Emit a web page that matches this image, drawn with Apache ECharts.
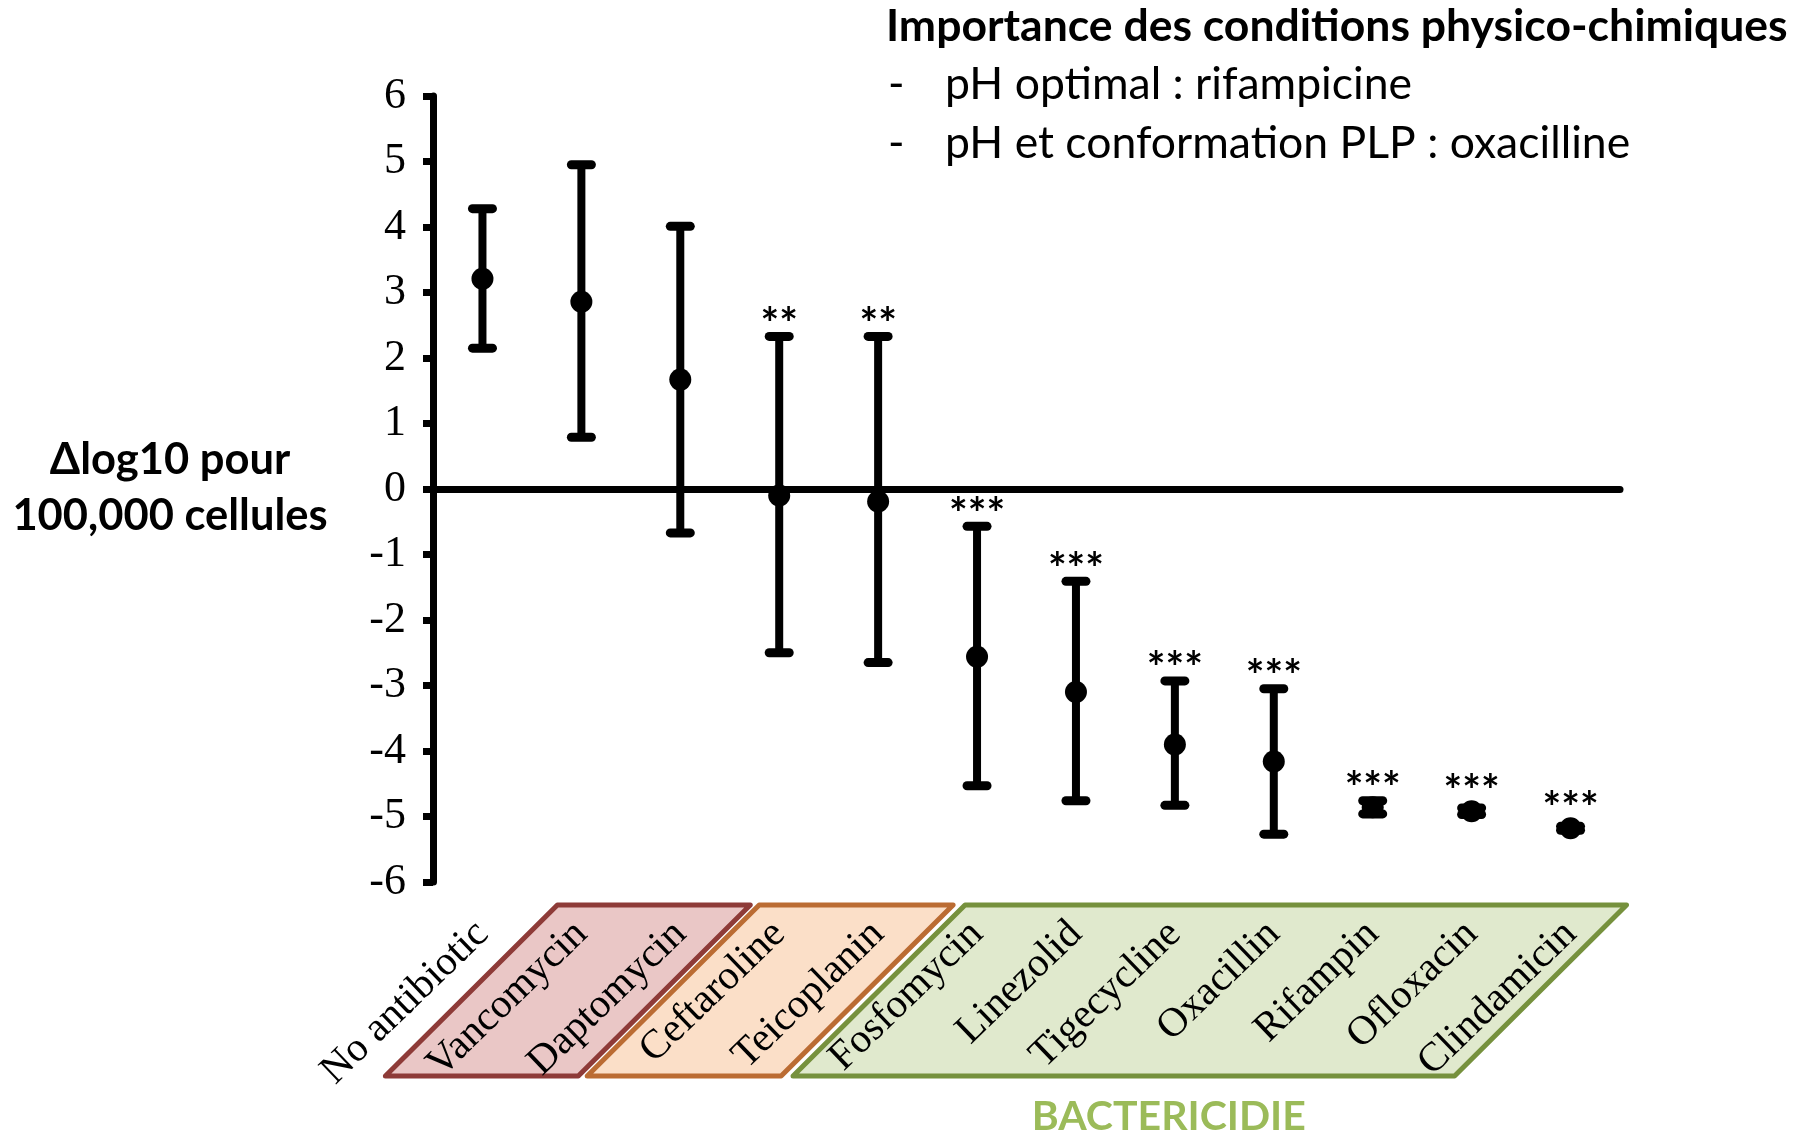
<!DOCTYPE html>
<html>
<head>
<meta charset="utf-8">
<script src="https://cdn.jsdelivr.net/npm/echarts@6/dist/echarts.min.js"></script>
<style>
  html, body { margin: 0; padding: 0; background: #ffffff; }
  #chart { width: 1808px; height: 1133px; }
</style>
</head>
<body>
<div id="chart"></div>
<script>
// Antibiotic conditions along the category axis
const categories = ['No antibiotic', 'Vancomycin', 'Daptomycin', 'Ceftaroline', 'Teicoplanin',
  'Fosfomycin', 'Linezolid', 'Tigecycline', 'Oxacillin', 'Rifampin', 'Ofloxacin', 'Clindamicin'];

// Δlog10 per 100,000 cells: mean with upper / lower error limits
const meanValues  = [3.21, 2.86, 1.67, -0.10, -0.19, -2.56, -3.10, -3.90, -4.16, -4.86, -4.92, -5.18];
const upperValues = [4.28, 4.95, 4.01, 2.33, 2.33, -0.57, -1.41, -2.93, -3.05, -4.76, -4.87, -5.15];
const lowerValues = [2.15, 0.79, -0.67, -2.50, -2.65, -4.53, -4.76, -4.83, -5.27, -4.96, -4.97, -5.21];

// Significance markers drawn above each error bar
const significance = ['', '', '', '**', '**', '***', '***', '***', '***', '***', '***', '***'];

// Value axis ticks
const yTickMin = -6;
const yTickMax = 6;
const yTickStep = 1;

// Category groups framed under the axis (first / last category index)
const groupFirst = [1, 3, 5];
const groupLast = [2, 4, 11];
const groupCaption = ['', '', 'BACTERICIDIE'];

// Annotation texts
const yTitleLines = ['\u0394log10 pour', '100,000 cellules'];
const noteTitle = 'Importance des conditions physico-chimiques';
const noteLines = ['pH optimal : rifampicine', 'pH et conformation PLP : oxacilline'];

// ---- styling ----
// padL / padR: how far each frame reaches past its first / last category centre
const groupStyles = [
  { fill: '#eac7c6', stroke: '#8e3b38', padL: 24, padR: 70 },
  { fill: '#fbdfc8', stroke: '#bb6c33', padL: 20, padR: 75 },
  { fill: '#e0e9cd', stroke: '#76913d', padL: 12, padR: 56 }
];
const captionColor = '#9bbb59';
const sansFont = 'Lato, "Open Sans", sans-serif';
const serifFont = '"Liberation Serif", "DejaVu Serif", serif';

const errorData = categories.map((c, i) => [i, lowerValues[i], upperValues[i], meanValues[i]]);
const groupData = groupFirst.map((f, i) => [f, groupLast[i], yTickMin]);

function renderErrorBar(params, api) {
  const i = api.value(0);
  const lo = api.coord([i, api.value(1)]);
  const hi = api.coord([i, api.value(2)]);
  const mid = api.coord([i, api.value(3)]);
  const x = mid[0];
  const capHalf = 10;
  const r = 11;
  const children = [
    { type: 'line', shape: { x1: x, y1: hi[1], x2: x, y2: lo[1] },
      style: { stroke: '#000', lineWidth: 8 } },
    { type: 'line', shape: { x1: x - capHalf, y1: hi[1], x2: x + capHalf, y2: hi[1] },
      style: { stroke: '#000', lineWidth: 9, lineCap: 'round' } },
    { type: 'line', shape: { x1: x - capHalf, y1: lo[1], x2: x + capHalf, y2: lo[1] },
      style: { stroke: '#000', lineWidth: 9, lineCap: 'round' } },
    { type: 'circle', shape: { cx: x, cy: mid[1], r: r }, style: { fill: '#000' } }
  ];
  const mark = significance[params.dataIndex];
  if (mark) {
    const topY = Math.min(hi[1] - 4, mid[1] - r);
    children.push({
      type: 'text',
      style: { text: mark, x: x, y: topY - 8, fill: '#000',
        font: 'bold 44px ' + sansFont, align: 'center', verticalAlign: 'middle',
        textAlign: 'center', textVerticalAlign: 'middle' }
    });
  }
  return { type: 'group', children: children };
}

function renderGroupBox(params, api) {
  const k = params.dataIndex;
  const st = groupStyles[k];
  const a = api.coord([api.value(0), api.value(2)]);
  const b = api.coord([api.value(1), api.value(2)]);
  const top = a[1] + 23;
  const bottom = a[1] + 194;
  const skew = 172;
  const xl = a[0] - st.padL;
  const xr = b[0] + st.padR;
  const children = [{
    type: 'polygon',
    shape: { points: [[xl, top], [xr, top], [xr - skew, bottom], [xl - skew, bottom]] },
    style: { fill: st.fill, stroke: st.stroke, lineWidth: 5, lineJoin: 'round' }
  }];
  if (groupCaption[k]) {
    children.push({
      type: 'text',
      style: { text: groupCaption[k], x: (xl + xr) / 2 - skew + 45, y: bottom + 41,
        fill: captionColor, font: 'bold 41px ' + sansFont,
        align: 'center', verticalAlign: 'middle', textAlign: 'center', textVerticalAlign: 'middle' }
    });
  }
  return { type: 'group', children: children };
}

function noteText(str, x, y, weight) {
  return { type: 'text', x: x, y: y, style: { text: str, font: weight + ' 44.5px ' + sansFont,
    fill: '#000', textAlign: 'left', textVerticalAlign: 'middle', align: 'left', verticalAlign: 'middle' } };
}

function yTitleText(str, y) {
  return { type: 'text', x: 170, y: y, style: { text: str, font: 'bold 43.5px ' + sansFont,
    fill: '#000', textAlign: 'center', textVerticalAlign: 'middle', align: 'center', verticalAlign: 'middle' } };
}

const chart = echarts.init(document.getElementById('chart'), null, { renderer: 'canvas' });

chart.setOption({
  backgroundColor: '#ffffff',
  animation: false,
  grid: { left: 433, right: 188, top: 96, bottom: 251 },
  xAxis: [
    {
      type: 'category', data: categories, position: 'bottom',
      axisLine: { show: true, onZero: true, lineStyle: { color: '#000', width: 7 } },
      axisTick: { show: false }, axisLabel: { show: false }, splitLine: { show: false }
    },
    {
      type: 'category', data: categories, position: 'bottom', z: 10,
      axisLine: { show: false, onZero: false }, axisTick: { show: false }, splitLine: { show: false },
      axisLabel: { show: true, interval: 0, rotate: 44, margin: 46, color: '#000',
        fontFamily: serifFont, fontSize: 41 }
    }
  ],
  yAxis: {
    type: 'value', min: yTickMin, max: yTickMax, interval: yTickStep,
    axisLine: { show: true, lineStyle: { color: '#000', width: 7 } },
    axisTick: { show: true, inside: false, length: 10, lineStyle: { color: '#000', width: 7 } },
    axisLabel: { color: '#000', fontFamily: serifFont, fontSize: 44, margin: 27 },
    splitLine: { show: false }
  },
  graphic: [
    yTitleText(yTitleLines[0], 460),
    yTitleText(yTitleLines[1], 516),
    noteText(noteTitle, 886, 27, 'bold'),
    noteText('-', 888, 85, 'normal'),
    noteText(noteLines[0], 945, 85, 'normal'),
    noteText('-', 888, 144, 'normal'),
    noteText(noteLines[1], 945, 144, 'normal')
  ],
  series: [
    {
      name: 'groups', type: 'custom', coordinateSystem: 'cartesian2d', xAxisIndex: 0,
      clip: false, z: 1, silent: true,
      encode: { x: [0, 1], y: 2 },
      renderItem: renderGroupBox, data: groupData
    },
    {
      name: 'delta', type: 'custom', coordinateSystem: 'cartesian2d', xAxisIndex: 0,
      clip: false, z: 5,
      encode: { x: 0, y: [1, 2, 3] },
      renderItem: renderErrorBar, data: errorData
    }
  ]
});
</script>
</body>
</html>
